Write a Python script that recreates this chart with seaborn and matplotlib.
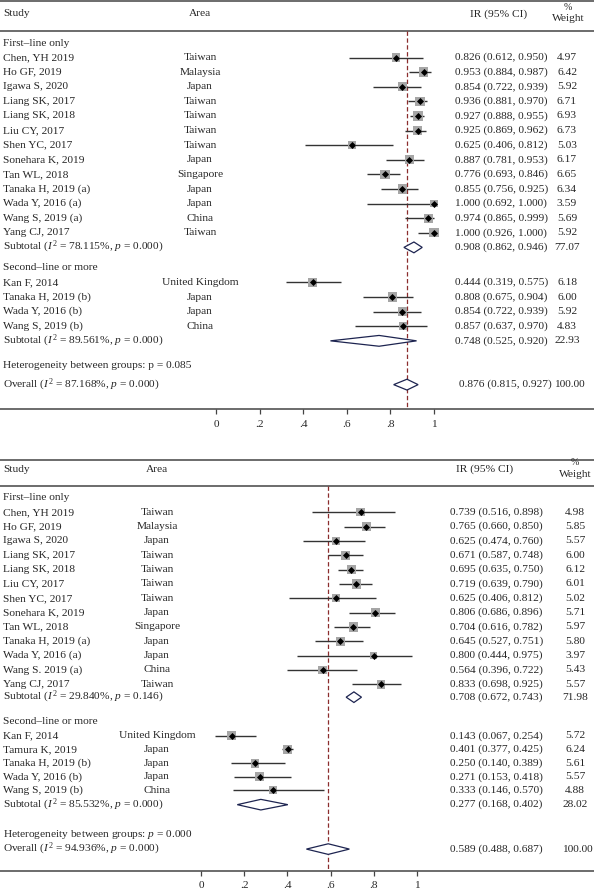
import numpy as np
import pandas as pd
import seaborn as sns
import matplotlib.pyplot as plt

# ---- panel A data ----
studies_a = ["Chen, YH 2019", "Ho GF, 2019", "Igawa S, 2020", "Liang SK, 2017", "Liang SK, 2018",
             "Liu CY, 2017", "Shen YC, 2017", "Sonehara K, 2019", "Tan WL, 2018", "Tanaka H, 2019 (a)",
             "Wada Y, 2016 (a)", "Wang S, 2019 (a)", "Yang CJ, 2017",
             "Kan F, 2014", "Tanaka H, 2019 (b)", "Wada Y, 2016 (b)", "Wang S, 2019 (b)"]
areas_a = ["Taiwan", "Malaysia", "Japan", "Taiwan", "Taiwan", "Taiwan", "Taiwan", "Japan", "Singapore",
           "Japan", "Japan", "China", "Taiwan",
           "United Kingdom", "Japan", "Japan", "China"]
group_a = [1] * 13 + [2] * 4
ir_a = [0.826, 0.953, 0.854, 0.936, 0.927, 0.925, 0.625, 0.887, 0.776, 0.855, 1.000, 0.974, 1.000,
        0.444, 0.808, 0.854, 0.857]
lo_a = [0.612, 0.884, 0.722, 0.881, 0.888, 0.869, 0.406, 0.781, 0.693, 0.756, 0.692, 0.865, 0.926,
        0.319, 0.675, 0.722, 0.637]
hi_a = [0.950, 0.987, 0.939, 0.970, 0.955, 0.962, 0.812, 0.953, 0.846, 0.925, 1.000, 0.999, 1.000,
        0.575, 0.904, 0.939, 0.970]
wt_a = [4.97, 6.42, 5.92, 6.71, 6.93, 6.73, 5.03, 6.17, 6.65, 6.34, 3.59, 5.69, 5.92,
        6.18, 6.00, 5.92, 4.83]
sub_label_a = [r"Subtotal ($I^2$ = 78.115%, $p$ = 0.000)", r"Subtotal ($I^2$ = 89.561%, $p$ = 0.000)"]
sub_ir_a = [0.908, 0.748]
sub_lo_a = [0.862, 0.525]
sub_hi_a = [0.946, 0.920]
sub_wt_a = [77.07, 22.93]
overall_a = [0.876, 0.815, 0.927, 100.00]
overall_label_a = r"Overall ($I^2$ = 87.168%, $p$ = 0.000)"
het_a = "Heterogeneity between groups: p = 0.085"

# ---- panel B data ----
studies_b = ["Chen, YH 2019", "Ho GF, 2019", "Igawa S, 2020", "Liang SK, 2017", "Liang SK, 2018",
             "Liu CY, 2017", "Shen YC, 2017", "Sonehara K, 2019", "Tan WL, 2018", "Tanaka H, 2019 (a)",
             "Wada Y, 2016 (a)", "Wang S. 2019 (a)", "Yang CJ, 2017",
             "Kan F, 2014", "Tamura K, 2019", "Tanaka H, 2019 (b)", "Wada Y, 2016 (b)", "Wang S, 2019 (b)"]
areas_b = ["Taiwan", "Malaysia", "Japan", "Taiwan", "Taiwan", "Taiwan", "Taiwan", "Japan", "Singapore",
           "Japan", "Japan", "China", "Taiwan",
           "United Kingdom", "Japan", "Japan", "Japan", "China"]
group_b = [1] * 13 + [2] * 5
ir_b = [0.739, 0.765, 0.625, 0.671, 0.695, 0.719, 0.625, 0.806, 0.704, 0.645, 0.800, 0.564, 0.833,
        0.143, 0.401, 0.250, 0.271, 0.333]
lo_b = [0.516, 0.660, 0.474, 0.587, 0.635, 0.639, 0.406, 0.686, 0.616, 0.527, 0.444, 0.396, 0.698,
        0.067, 0.377, 0.140, 0.153, 0.146]
hi_b = [0.898, 0.850, 0.760, 0.748, 0.750, 0.790, 0.812, 0.896, 0.782, 0.751, 0.975, 0.722, 0.925,
        0.254, 0.425, 0.389, 0.418, 0.570]
wt_b = [4.98, 5.85, 5.57, 6.00, 6.12, 6.01, 5.02, 5.71, 5.97, 5.80, 3.97, 5.43, 5.57,
        5.72, 6.24, 5.61, 5.57, 4.88]
sub_label_b = [r"Subtotal ($I^2$ = 29.840%, $p$ = 0.146)", r"Subtotal ($I^2$ = 85.532%, $p$ = 0.000)"]
sub_ir_b = [0.708, 0.277]
sub_lo_b = [0.672, 0.168]
sub_hi_b = [0.743, 0.402]
sub_wt_b = [71.98, 28.02]
overall_b = [0.589, 0.488, 0.687, 100.00]
overall_label_b = r"Overall ($I^2$ = 94.936%, $p$ = 0.000)"
het_b = r"Heterogeneity between groups: $p$ = 0.000"

group_titles = ["First\u2013line only", "Second\u2013line or more"]
ticks = [0, 0.2, 0.4, 0.6, 0.8, 1.0]
tick_labels = ["0", ".2", ".4", ".6", ".8", "1"]

sns.set_theme(style="white")
plt.rcParams['font.family'] = ['Liberation Serif', 'DejaVu Serif']
plt.rcParams['mathtext.fontset'] = 'custom'
plt.rcParams['mathtext.rm'] = 'Liberation Serif'
plt.rcParams['mathtext.it'] = 'Liberation Serif:italic'
FS = 8.2
W, H = 594, 889

fig = plt.figure(figsize=(W / 100, H / 100), dpi=100)


def draw_panel(top_px, bot_px, lay, df, subs, overall, overall_label, het):
    ax = fig.add_axes([0, 1 - bot_px / H, 1, (bot_px - top_px) / H])
    ax.axis('off')
    x0, unit = lay['x0'], lay['unit']
    ax.set_xlim(-x0 / unit, (W - x0) / unit)
    f0, step = lay['first_px'], lay['step']
    ax.set_ylim((bot_px - f0) / step, (top_px - f0) / step)
    tr = ax.get_yaxis_transform()
    px = lambda p: p / W

    # row positions
    n1 = (df.group == 1).sum()
    n2 = (df.group == 2).sum()
    pos1 = np.arange(1, n1 + 1)
    pos2 = lay['g2'] + 1 + np.arange(n2) * lay['step2']
    df = df.assign(y=np.concatenate([pos1, pos2]))
    sub_y = [n1 + lay['sub1'], pos2[-1] + 1]
    title_y = [0, lay['g2']]

    # header
    for y in (lay['line0'], lay['line1']):
        ax.plot([0, 1], [y, y], transform=tr, color='#444444', lw=1.1, clip_on=False)
    hy = lay['head']
    ax.text(px(3), hy, "Study", transform=tr, fontsize=FS, va='center')
    ax.text(px(lay['area']), hy, "Area", transform=tr, fontsize=FS, va='center', ha='center')
    ax.text(px(lay['irh']), hy, "IR (95% CI)", transform=tr, fontsize=FS, va='center', ha='center')
    ax.text(px(lay['wth']), hy - 0.45, "%", transform=tr, fontsize=FS - 1, va='center', ha='center')
    ax.text(px(lay['wth']), hy + 0.35, "Weight", transform=tr, fontsize=FS, va='center', ha='center')

    # dashed overall line
    ax.plot([overall[0], overall[0]], [lay['line1'], lay['axis']], color='#8b2d2d', lw=0.9,
            ls=(0, (3.5, 2)))

    # CIs and markers
    ax.hlines(df.y, df.lo, df.hi, color='#333333', lw=1.0)
    sns.scatterplot(data=df, x='ir', y='y', size='wt', sizes=(0, 50), size_norm=(0, 7),
                    marker='s', color='#a6a6a6', linewidth=0, legend=False, ax=ax, zorder=3)
    sns.scatterplot(data=df, x='ir', y='y', marker='D', s=13, color='black', linewidth=0,
                    legend=False, ax=ax, zorder=4)

    for _, r in df.iterrows():
        ax.text(px(3), r.y, r.study, transform=tr, fontsize=FS, va='center')
        ax.text(px(lay['area']), r.y, r.area, transform=tr, fontsize=FS, va='center', ha='center')
        ax.text(px(lay['ir']), r.y, f"{r.ir:.3f} ({r.lo:.3f}, {r.hi:.3f})", transform=tr,
                fontsize=FS, va='center')
        ax.text(px(lay['wt']), r.y, f"{r.wt:.2f}", transform=tr, fontsize=FS, va='center', ha='center')

    def diamond(est, lo, hi, y):
        ax.fill([lo, est, hi, est], [y, y - 0.37, y, y + 0.37], facecolor='white',
                edgecolor='#1d2450', lw=0.9, zorder=3)

    for g in range(2):
        ax.text(px(3), title_y[g], group_titles[g], transform=tr, fontsize=FS, va='center')
        y = sub_y[g]
        diamond(subs['ir'][g], subs['lo'][g], subs['hi'][g], y)
        ax.text(px(3), y, subs['label'][g], transform=tr, fontsize=FS, va='center')
        ax.text(px(lay['ir']), y, f"{subs['ir'][g]:.3f} ({subs['lo'][g]:.3f}, {subs['hi'][g]:.3f})",
                transform=tr, fontsize=FS, va='center')
        ax.text(px(lay['wt']), y, f"{subs['wt'][g]:.2f}", transform=tr, fontsize=FS,
                va='center', ha='center')

    ax.text(px(3), lay['het'], het, transform=tr, fontsize=FS, va='center')
    oy = lay['overall']
    diamond(overall[0], overall[1], overall[2], oy)
    ax.text(px(3), oy, overall_label, transform=tr, fontsize=FS, va='center')
    ax.text(px(lay['ir_ov']), oy, f"{overall[0]:.3f} ({overall[1]:.3f}, {overall[2]:.3f})",
            transform=tr, fontsize=FS, va='center')
    ax.text(px(lay['wt_ov']), oy, f"{overall[3]:.2f}", transform=tr, fontsize=FS,
            va='center', ha='center')

    # x axis
    ay = lay['axis']
    ax.plot([0, 1], [ay, ay], transform=tr, color='#444444', lw=1.1, clip_on=False)
    ax.vlines(ticks, ay, ay + 0.35, color='#444444', lw=0.9)
    for t, lab in zip(ticks, tick_labels):
        ax.text(t, lay['ticklab'], lab, fontsize=FS, ha='center', va='center')


def make_df(studies, areas, group, ir, lo, hi, wt):
    return pd.DataFrame({'study': studies, 'area': areas, 'group': group,
                         'ir': ir, 'lo': lo, 'hi': hi, 'wt': wt})


lay_a = dict(x0=216, unit=218, first_px=43, step=14.6, g2=15.4, step2=1.0, sub1=1.0,
             line0=-2.9, line1=-0.8, head=-2.0, het=22.1, overall=23.4, axis=25.07, ticklab=26.1,
             area=200, irh=499, wth=568, ir=455, wt=567, ir_ov=459, wt_ov=569)
lay_b = dict(x0=201, unit=216, first_px=498, step=14.33, g2=15.6, step2=0.95, sub1=0.9,
             line0=-2.65, line1=-0.84, head=-2.0, het=23.45, overall=24.5, axis=26.0, ticklab=27.05,
             area=157, irh=485, wth=575, ir=450, wt=575, ir_ov=450, wt_ov=577)

draw_panel(0, 440, lay_a, make_df(studies_a, areas_a, group_a, ir_a, lo_a, hi_a, wt_a),
           dict(label=sub_label_a, ir=sub_ir_a, lo=sub_lo_a, hi=sub_hi_a, wt=sub_wt_a),
           overall_a, overall_label_a, het_a)
draw_panel(445, 889, lay_b, make_df(studies_b, areas_b, group_b, ir_b, lo_b, hi_b, wt_b),
           dict(label=sub_label_b, ir=sub_ir_b, lo=sub_lo_b, hi=sub_hi_b, wt=sub_wt_b),
           overall_b, overall_label_b, het_b)

fig.savefig('out.png', dpi=100)
